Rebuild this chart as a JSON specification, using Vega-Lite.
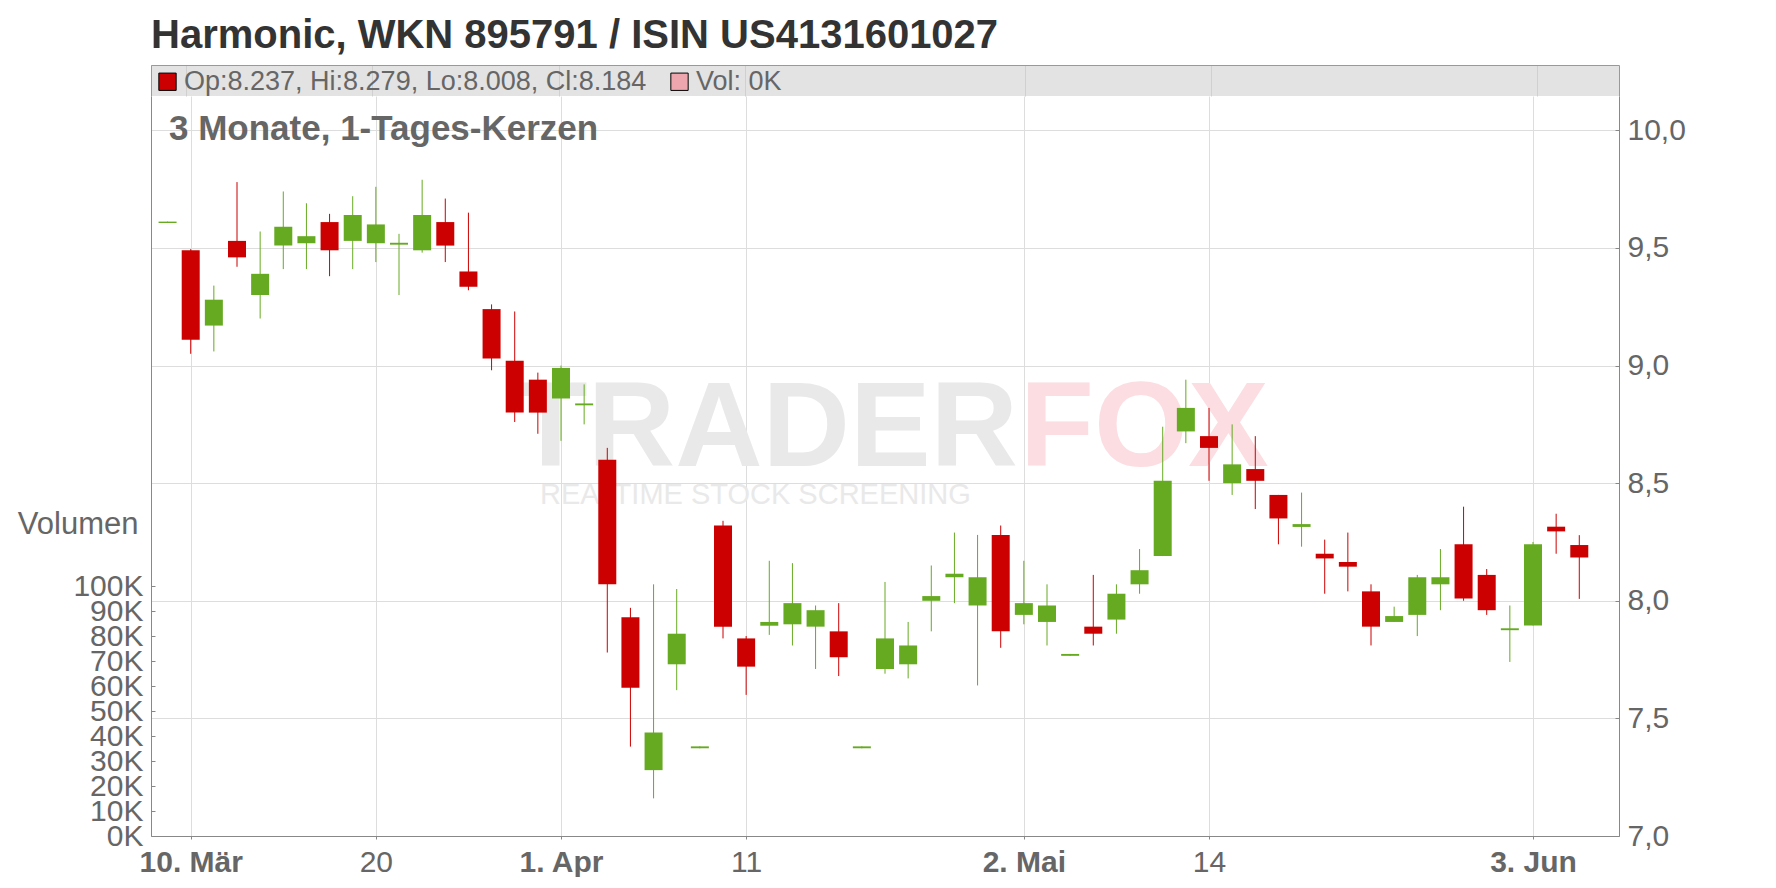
{
  "$schema": "https://vega.github.io/schema/vega-lite/v6.json",
  "padding": {"left": 17, "top": 16, "right": 0, "bottom": 0},
  "background": "white",
  "title": {"text": "Harmonic, WKN 895791 / ISIN US4131601027", "anchor": "start", "frame": "group", "fontSize": 40, "fontWeight": "bold", "color": "#333333", "font": "Liberation Sans", "baseline": "alphabetic", "offset": -23, "dx": 0},
  "spacing": 0,
  "datasets": {
    "candles": [
      {"d": "2025-03-07", "t": 0, "o": 9.606, "h": 9.612, "l": 9.606, "c": 9.612, "v": 0},
      {"d": "2025-03-10", "t": 1, "o": 9.49, "h": 9.495, "l": 9.05, "c": 9.11, "v": 0},
      {"d": "2025-03-11", "t": 2, "o": 9.17, "h": 9.34, "l": 9.06, "c": 9.28, "v": 0},
      {"d": "2025-03-12", "t": 3, "o": 9.53, "h": 9.78, "l": 9.42, "c": 9.46, "v": 0},
      {"d": "2025-03-13", "t": 4, "o": 9.30, "h": 9.57, "l": 9.20, "c": 9.39, "v": 0},
      {"d": "2025-03-14", "t": 5, "o": 9.51, "h": 9.74, "l": 9.41, "c": 9.59, "v": 0},
      {"d": "2025-03-17", "t": 6, "o": 9.52, "h": 9.69, "l": 9.41, "c": 9.55, "v": 0},
      {"d": "2025-03-18", "t": 7, "o": 9.61, "h": 9.645, "l": 9.38, "c": 9.49, "v": 0},
      {"d": "2025-03-19", "t": 8, "o": 9.53, "h": 9.72, "l": 9.41, "c": 9.64, "v": 0},
      {"d": "2025-03-20", "t": 9, "o": 9.52, "h": 9.76, "l": 9.44, "c": 9.60, "v": 0},
      {"d": "2025-03-21", "t": 10, "o": 9.514, "h": 9.56, "l": 9.30, "c": 9.522, "v": 0},
      {"d": "2025-03-24", "t": 11, "o": 9.49, "h": 9.79, "l": 9.48, "c": 9.64, "v": 0},
      {"d": "2025-03-25", "t": 12, "o": 9.61, "h": 9.71, "l": 9.44, "c": 9.51, "v": 0},
      {"d": "2025-03-26", "t": 13, "o": 9.40, "h": 9.65, "l": 9.32, "c": 9.335, "v": 0},
      {"d": "2025-03-27", "t": 14, "o": 9.24, "h": 9.26, "l": 8.98, "c": 9.03, "v": 0},
      {"d": "2025-03-28", "t": 15, "o": 9.02, "h": 9.23, "l": 8.76, "c": 8.80, "v": 0},
      {"d": "2025-03-31", "t": 16, "o": 8.94, "h": 8.97, "l": 8.71, "c": 8.80, "v": 0},
      {"d": "2025-04-01", "t": 17, "o": 8.86, "h": 9.00, "l": 8.68, "c": 8.99, "v": 0},
      {"d": "2025-04-02", "t": 18, "o": 8.831, "h": 8.92, "l": 8.75, "c": 8.839, "v": 0},
      {"d": "2025-04-03", "t": 19, "o": 8.60, "h": 8.65, "l": 7.78, "c": 8.07, "v": 0},
      {"d": "2025-04-04", "t": 20, "o": 7.93, "h": 7.97, "l": 7.38, "c": 7.63, "v": 0},
      {"d": "2025-04-07", "t": 21, "o": 7.28, "h": 8.07, "l": 7.16, "c": 7.44, "v": 0},
      {"d": "2025-04-08", "t": 22, "o": 7.73, "h": 8.05, "l": 7.62, "c": 7.86, "v": 0},
      {"d": "2025-04-09", "t": 23, "o": 7.373, "h": 7.381, "l": 7.373, "c": 7.381, "v": 0},
      {"d": "2025-04-10", "t": 24, "o": 8.32, "h": 8.34, "l": 7.84, "c": 7.89, "v": 0},
      {"d": "2025-04-11", "t": 25, "o": 7.84, "h": 7.85, "l": 7.60, "c": 7.72, "v": 0},
      {"d": "2025-04-14", "t": 26, "o": 7.894, "h": 8.17, "l": 7.855, "c": 7.91, "v": 0},
      {"d": "2025-04-15", "t": 27, "o": 7.90, "h": 8.16, "l": 7.81, "c": 7.99, "v": 0},
      {"d": "2025-04-16", "t": 28, "o": 7.89, "h": 7.98, "l": 7.71, "c": 7.96, "v": 0},
      {"d": "2025-04-17", "t": 29, "o": 7.87, "h": 7.99, "l": 7.68, "c": 7.76, "v": 0},
      {"d": "2025-04-22", "t": 30, "o": 7.373, "h": 7.381, "l": 7.373, "c": 7.381, "v": 0},
      {"d": "2025-04-23", "t": 31, "o": 7.71, "h": 8.08, "l": 7.69, "c": 7.84, "v": 0},
      {"d": "2025-04-24", "t": 32, "o": 7.73, "h": 7.91, "l": 7.67, "c": 7.81, "v": 0},
      {"d": "2025-04-25", "t": 33, "o": 8.00, "h": 8.15, "l": 7.87, "c": 8.02, "v": 0},
      {"d": "2025-04-28", "t": 34, "o": 8.10, "h": 8.29, "l": 7.99, "c": 8.115, "v": 0},
      {"d": "2025-04-29", "t": 35, "o": 7.98, "h": 8.28, "l": 7.64, "c": 8.10, "v": 0},
      {"d": "2025-04-30", "t": 36, "o": 8.28, "h": 8.32, "l": 7.80, "c": 7.87, "v": 0},
      {"d": "2025-05-02", "t": 37, "o": 7.94, "h": 8.17, "l": 7.90, "c": 7.99, "v": 0},
      {"d": "2025-05-05", "t": 38, "o": 7.91, "h": 8.07, "l": 7.81, "c": 7.98, "v": 0},
      {"d": "2025-05-06", "t": 39, "o": 7.766, "h": 7.774, "l": 7.766, "c": 7.774, "v": 0},
      {"d": "2025-05-07", "t": 40, "o": 7.89, "h": 8.11, "l": 7.81, "c": 7.86, "v": 0},
      {"d": "2025-05-08", "t": 41, "o": 7.92, "h": 8.07, "l": 7.86, "c": 8.03, "v": 0},
      {"d": "2025-05-09", "t": 42, "o": 8.07, "h": 8.22, "l": 8.03, "c": 8.13, "v": 0},
      {"d": "2025-05-12", "t": 43, "o": 8.19, "h": 8.74, "l": 8.19, "c": 8.51, "v": 0},
      {"d": "2025-05-13", "t": 44, "o": 8.72, "h": 8.94, "l": 8.67, "c": 8.82, "v": 0},
      {"d": "2025-05-14", "t": 45, "o": 8.70, "h": 8.82, "l": 8.51, "c": 8.65, "v": 0},
      {"d": "2025-05-15", "t": 46, "o": 8.50, "h": 8.75, "l": 8.45, "c": 8.58, "v": 0},
      {"d": "2025-05-16", "t": 47, "o": 8.56, "h": 8.70, "l": 8.39, "c": 8.51, "v": 0},
      {"d": "2025-05-19", "t": 48, "o": 8.45, "h": 8.45, "l": 8.24, "c": 8.35, "v": 0},
      {"d": "2025-05-20", "t": 49, "o": 8.314, "h": 8.46, "l": 8.23, "c": 8.326, "v": 0},
      {"d": "2025-05-21", "t": 50, "o": 8.20, "h": 8.26, "l": 8.03, "c": 8.18, "v": 0},
      {"d": "2025-05-22", "t": 51, "o": 8.165, "h": 8.29, "l": 8.04, "c": 8.145, "v": 0},
      {"d": "2025-05-23", "t": 52, "o": 8.04, "h": 8.07, "l": 7.81, "c": 7.89, "v": 0},
      {"d": "2025-05-26", "t": 53, "o": 7.91, "h": 7.975, "l": 7.91, "c": 7.935, "v": 0},
      {"d": "2025-05-27", "t": 54, "o": 7.94, "h": 8.11, "l": 7.85, "c": 8.10, "v": 0},
      {"d": "2025-05-28", "t": 55, "o": 8.07, "h": 8.22, "l": 7.96, "c": 8.10, "v": 0},
      {"d": "2025-05-29", "t": 56, "o": 8.24, "h": 8.40, "l": 8.00, "c": 8.01, "v": 0},
      {"d": "2025-05-30", "t": 57, "o": 8.11, "h": 8.135, "l": 7.94, "c": 7.96, "v": 0},
      {"d": "2025-06-02", "t": 58, "o": 7.875, "h": 7.98, "l": 7.74, "c": 7.883, "v": 0},
      {"d": "2025-06-03", "t": 59, "o": 7.895, "h": 8.25, "l": 7.895, "c": 8.24, "v": 0},
      {"d": "2025-06-04", "t": 60, "o": 8.315, "h": 8.37, "l": 8.20, "c": 8.295, "v": 0},
      {"d": "2025-06-05", "t": 61, "o": 8.237, "h": 8.279, "l": 8.008, "c": 8.184, "v": 0}
    ]
  },
  "vconcat": [
    {
      "width": 1468,
      "height": 31,
      "view": {"fill": "#e3e3e3", "stroke": null},
      "layer": [
        {
          "data": {"name": "candles"},
          "mark": {"type": "point", "size": 0, "opacity": 0},
          "encoding": {
            "x": {"field": "t", "type": "quantitative", "scale": {"domain": [-0.5, 62.5], "nice": false, "zero": false},
              "axis": {"orient": "top", "values": [1, 9, 17, 25, 37, 45, 59], "labels": false, "ticks": false, "domain": true, "domainColor": "#999999", "grid": true, "gridColor": "#d0d0d0", "title": null}},
            "y": {"datum": 0, "type": "quantitative", "scale": {"domain": [0, 1]},
              "axis": {"orient": "left", "labels": false, "ticks": false, "grid": false, "domain": true, "domainColor": "#999999", "title": null}}
          }
        },
        {
          "data": {"values": [{"s": "Op:8.237, Hi:8.279, Lo:8.008, Cl:8.184"}, {"s": "Vol: 0K"}]},
          "mark": {"type": "square", "size": 0},
          "encoding": {
            "fill": {"field": "s", "type": "nominal",
              "scale": {"domain": ["Op:8.237, Hi:8.279, Lo:8.008, Cl:8.184", "Vol: 0K"], "range": ["#cc0000", "#eea6ae"]},
              "legend": {"title": null, "orient": "none", "legendX": 3, "legendY": 3, "direction": "horizontal", "symbolType": "square", "symbolSize": 300, "symbolStrokeColor": "#000000", "symbolStrokeWidth": 1, "symbolOpacity": 1, "labelFontSize": 27, "labelColor": "#666666", "labelFont": "Liberation Sans", "labelOffset": 3, "columnPadding": 19, "labelLimit": 900, "padding": 0}},
            "y": {"datum": 0, "type": "quantitative", "scale": {"domain": [0, 1]},
              "axis": {"orient": "right", "labels": false, "ticks": false, "grid": false, "domain": true, "domainColor": "#999999", "title": null}}
          }
        }
      ],
      "resolve": {"scale": {"y": "independent"}}
    },
    {
      "width": 1468,
      "height": 740,
      "title": {"text": "3 Monate, 1-Tages-Kerzen", "anchor": "start", "frame": "group", "orient": "top", "offset": -79, "dx": 18, "baseline": "alphabetic", "fontSize": 35, "fontWeight": "bold", "color": "#666666", "font": "Liberation Sans"},
      "layer": [
        {
          "layer": [
            {
              "data": {"values": [{"w": "TRADER"}]},
              "mark": {"type": "text", "align": "right", "baseline": "alphabetic", "dx": 133, "fontSize": 121, "fontWeight": "bold", "color": "#e9e9e9", "font": "Liberation Sans"},
              "encoding": {"text": {"field": "w"}}
            },
            {
              "data": {"values": [{"w": "FOX"}]},
              "mark": {"type": "text", "align": "left", "baseline": "alphabetic", "dx": 135, "fontSize": 121, "fontWeight": "bold", "color": "#fcdde1", "font": "Liberation Sans"},
              "encoding": {"text": {"field": "w"}}
            },
            {
              "data": {"values": [{"w": "REALTIME STOCK SCREENING"}]},
              "mark": {"type": "text", "align": "left", "baseline": "middle", "dx": -345, "dy": 29, "fontSize": 29, "color": "#e9e9e9", "font": "Liberation Sans"},
              "encoding": {"text": {"field": "w"}}
            },
            {
              "data": {"name": "candles"},
              "mark": {"type": "rule", "strokeWidth": 1},
              "encoding": {
                "x": {"field": "t", "type": "quantitative", "scale": {"domain": [-0.5, 62.5], "nice": false, "zero": false},
                  "axis": {"orient": "bottom", "values": [1, 9, 17, 25, 37, 45, 59],
                    "labelExpr": "datum.value == 1 ? '10. Mär' : datum.value == 9 ? '20' : datum.value == 17 ? '1. Apr' : datum.value == 25 ? '11' : datum.value == 37 ? '2. Mai' : datum.value == 45 ? '14' : '3. Jun'",
                    "title": null, "grid": true, "gridColor": "#dddddd", "domain": true, "domainColor": "#888888", "ticks": true, "tickSize": 3, "tickColor": "#888888",
                    "labelFontSize": 30, "labelColor": "#666666", "labelPadding": 8, "labelFlush": false, "labelOverlap": false,
                    "labelFontWeight": {"condition": {"test": "datum.value == 1 || datum.value == 17 || datum.value == 37 || datum.value == 59", "value": "bold"}, "value": "normal"}}},
                "y": {"field": "l", "type": "quantitative", "scale": {"domain": [7.0, 10.146], "nice": false, "zero": false},
                  "axis": {"orient": "right", "values": [7, 7.5, 8, 8.5, 9, 9.5, 10], "labelExpr": "replace(format(datum.value, '.1f'), '.', ',')", "title": null, "grid": true, "gridColor": "#dddddd", "domain": true, "domainColor": "#888888", "ticks": true, "tickColor": "#888888", "tickSize": -4, "labelPadding": 12, "labelFontSize": 30, "labelColor": "#666666", "labelFlush": false, "labelOverlap": false}},
                "y2": {"field": "h"},
                "color": {"condition": {"test": "datum.c < datum.o", "value": "#cc0000"}, "value": "#66aa22"}
              }
            },
            {
              "data": {"name": "candles"},
              "mark": {"type": "bar", "size": 18},
              "encoding": {
                "x": {"field": "t", "type": "quantitative", "scale": {"domain": [-0.5, 62.5], "nice": false, "zero": false},
                  "axis": {"orient": "bottom", "values": [1, 9, 17, 25, 37, 45, 59],
                    "labelExpr": "datum.value == 1 ? '10. Mär' : datum.value == 9 ? '20' : datum.value == 17 ? '1. Apr' : datum.value == 25 ? '11' : datum.value == 37 ? '2. Mai' : datum.value == 45 ? '14' : '3. Jun'",
                    "title": null, "grid": true, "gridColor": "#dddddd", "domain": true, "domainColor": "#888888", "ticks": true, "tickSize": 3, "tickColor": "#888888",
                    "labelFontSize": 30, "labelColor": "#666666", "labelPadding": 8, "labelFlush": false, "labelOverlap": false,
                    "labelFontWeight": {"condition": {"test": "datum.value == 1 || datum.value == 17 || datum.value == 37 || datum.value == 59", "value": "bold"}, "value": "normal"}}},
                "y": {"field": "o", "type": "quantitative", "scale": {"domain": [7.0, 10.146], "nice": false, "zero": false},
                  "axis": {"orient": "right", "values": [7, 7.5, 8, 8.5, 9, 9.5, 10], "labelExpr": "replace(format(datum.value, '.1f'), '.', ',')", "title": null, "grid": true, "gridColor": "#dddddd", "domain": true, "domainColor": "#888888", "ticks": true, "tickColor": "#888888", "tickSize": -4, "labelPadding": 12, "labelFontSize": 30, "labelColor": "#666666", "labelFlush": false, "labelOverlap": false}},
                "y2": {"field": "c"},
                "color": {"condition": {"test": "datum.c < datum.o", "value": "#cc0000"}, "value": "#66aa22"}
              }
            }
          ]
        },
        {
          "data": {"name": "candles"},
          "mark": {"type": "bar", "size": 18, "color": "#eea6ae"},
          "encoding": {
            "x": {"field": "t", "type": "quantitative", "scale": {"domain": [-0.5, 62.5], "nice": false, "zero": false},
              "axis": {"orient": "bottom", "values": [1, 9, 17, 25, 37, 45, 59],
                "labelExpr": "datum.value == 1 ? '10. Mär' : datum.value == 9 ? '20' : datum.value == 17 ? '1. Apr' : datum.value == 25 ? '11' : datum.value == 37 ? '2. Mai' : datum.value == 45 ? '14' : '3. Jun'",
                "title": null, "grid": true, "gridColor": "#dddddd", "domain": true, "domainColor": "#888888", "ticks": true, "tickSize": 3, "tickColor": "#888888",
                "labelFontSize": 30, "labelColor": "#666666", "labelPadding": 8, "labelFlush": false, "labelOverlap": false,
                "labelFontWeight": {"condition": {"test": "datum.value == 1 || datum.value == 17 || datum.value == 37 || datum.value == 59", "value": "bold"}, "value": "normal"}}},
            "y": {"field": "v", "type": "quantitative", "scale": {"domain": [0, 296000], "nice": false, "zero": true},
              "axis": {"orient": "left", "values": [0, 10000, 20000, 30000, 40000, 50000, 60000, 70000, 80000, 90000, 100000], "labelExpr": "format(datum.value / 1000, 'd') + 'K'",
                "title": "Volumen", "titleAngle": 0, "titleAlign": "right", "titleBaseline": "alphabetic", "titleX": -13, "titleY": 437, "titleFontSize": 31, "titleFontWeight": "normal", "titleColor": "#666666", "titleFont": "Liberation Sans",
                "grid": false, "domain": true, "domainColor": "#888888", "ticks": true, "tickColor": "#888888", "tickSize": -4, "labelPadding": 12, "labelFontSize": 30, "labelColor": "#666666", "labelFlush": false, "labelOverlap": false}}
          }
        }
      ],
      "resolve": {"scale": {"y": "independent"}}
    }
  ],
  "config": {
    "font": "Liberation Sans",
    "view": {"stroke": null},
    "axis": {"labelFont": "Liberation Sans", "titleFont": "Liberation Sans"}
  }
}
